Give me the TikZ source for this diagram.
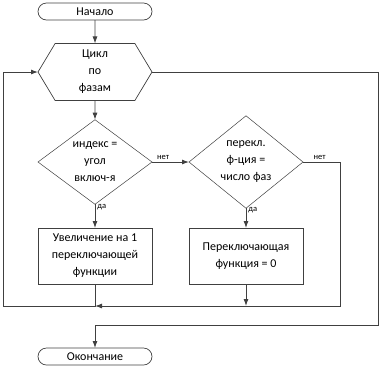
\documentclass[tikz,border=0pt]{standalone}
\usepackage{fontspec}
\setmainfont{Carlito}
\usetikzlibrary{arrows.meta,shapes.geometric,shapes.misc,shapes.symbols}
\definecolor{linegray}{HTML}{404040}
\tikzset{
  term/.style={draw=linegray,line width=0.7pt,rounded rectangle,minimum width=114pt,minimum height=17pt,inner sep=0pt,outer sep=0pt},
  loopbox/.style={draw=linegray,line width=0.7pt,signal,signal to=west and east,signal pointer angle=118,minimum width=114pt,minimum height=57pt,inner sep=0pt,outer sep=0pt,align=center},
  decision/.style={draw=linegray,line width=0.5pt,diamond,minimum width=114pt,minimum height=79pt,inner sep=0pt,outer sep=0pt,align=center},
  process/.style={draw=linegray,line width=0.7pt,rectangle,minimum width=114pt,minimum height=56pt,inner sep=0pt,outer sep=0pt,align=center},
  flow/.style={draw=linegray,line width=0.9pt},
  arr/.style={flow,-{Latex[length=7pt,width=5pt]}},
  lbl/.style={font=\fontsize{8.5}{9}\selectfont,inner sep=2pt}
}
\begin{document}
\begin{tikzpicture}[x=1pt,y=-1pt,font=\fontsize{12}{17}\selectfont]
\useasboundingbox (0,0) rectangle (379,368);
\node[term] (start) at (95,11.5) {Начало};
\node[loopbox] (loop) at (95,72) {Цикл\\по\\фазам};
\node[decision] (d1) at (95,162) {индекс =\\угол\\включ-я};
\node[decision] (d2) at (246,162) {перекл.\\ф-ция =\\число фаз};
\node[process] (b1) at (95,256) {Увеличение на 1\\переключающей\\функции};
\node[process] (b2) at (246,256) {Переключающая\\функция = 0};
\node[term] (stop) at (95,356.5) {Окончание};
\coordinate (j1) at (95,306);
\coordinate (j2) at (246,306);
\coordinate (j3) at (95,325);
\draw[arr] (start) -- (loop);
\draw[arr] (loop) -- (d1);
\draw[arr] (d1.east) -- node[lbl,above,pos=0.3] {нет} (d2.west);
\draw[arr] (d1.south) -- node[lbl,right,pos=0.12] {да} (b1.north);
\draw[arr] (d2.south) -- node[lbl,right,pos=0.12] {да} (b2.north);
\draw[arr] (d2.east) -- node[lbl,above,pos=0.45] {нет} (340,162) -- (340,306) -- (j1);
\draw[arr] (b2.south) -- (j2);
\draw[arr] (b1.south) -- (j1) -- (3,306) -- (3,72) -- (loop.west);
\draw[arr] (loop.east) -- (378,72) -- (378,325) -- (j3) -- (stop.north);
\end{tikzpicture}
\end{document}
